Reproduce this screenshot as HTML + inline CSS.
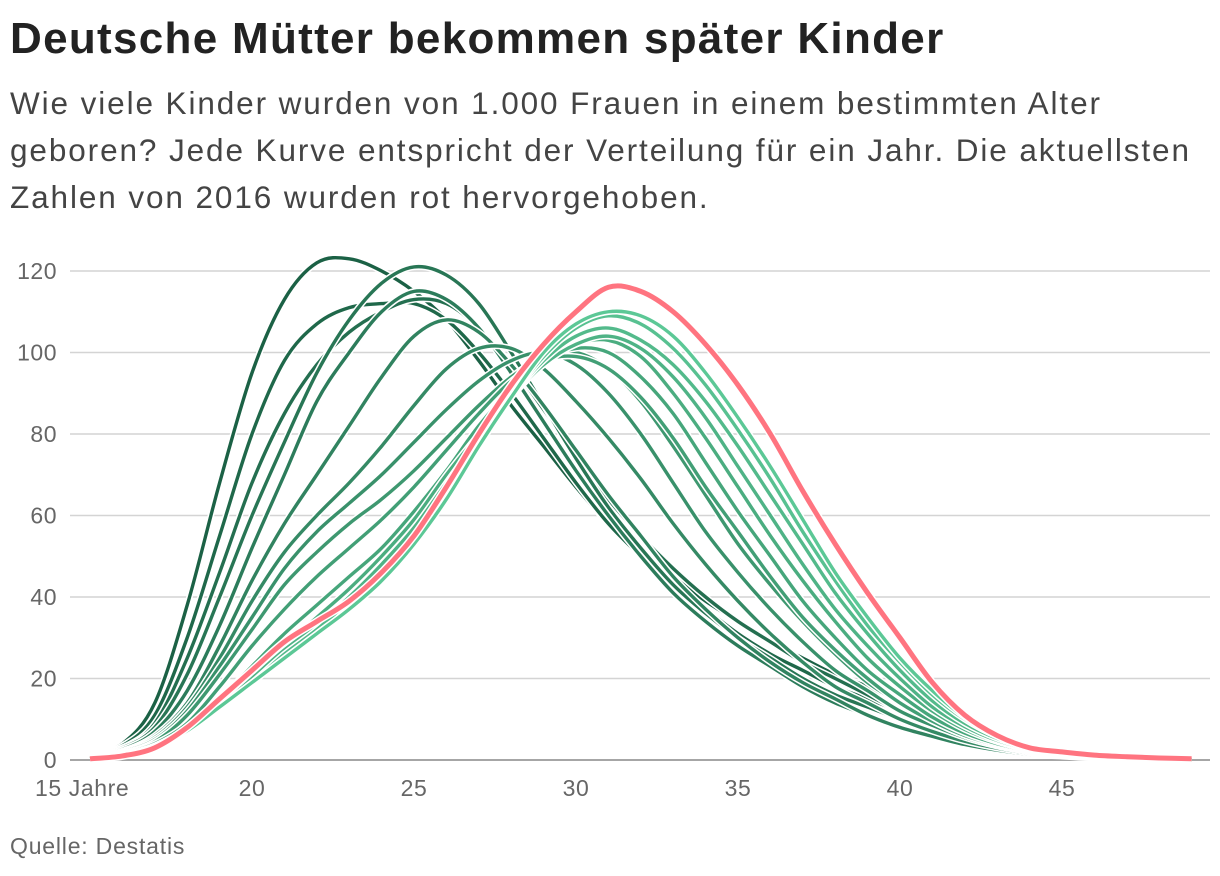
<!DOCTYPE html>
<html><head><meta charset="utf-8"><style>
body{margin:0;background:#fff;width:1220px;height:876px;overflow:hidden;font-family:"Liberation Sans",sans-serif;}
#title{position:absolute;left:10px;top:14px;font-size:44px;font-weight:bold;color:#222;letter-spacing:1.3px;margin:0;white-space:nowrap}
#sub{position:absolute;left:10px;top:80px;width:1210px;font-size:31.5px;line-height:47px;color:#444;margin:0;letter-spacing:1.9px;white-space:nowrap}
#src{position:absolute;left:10px;top:833px;font-size:23px;color:#666;letter-spacing:0.8px}
svg{position:absolute;left:0;top:0}
</style></head><body>
<h1 id="title">Deutsche Mütter bekommen später Kinder</h1>
<p id="sub">Wie viele Kinder wurden von 1.000 Frauen in einem bestimmten Alter<br>geboren? Jede Kurve entspricht der Verteilung für ein Jahr. Die aktuellsten<br>Zahlen von 2016 wurden rot hervorgehoben.</p>
<div id="src">Quelle: Destatis</div>
<svg id="chart" width="1220" height="876"></svg>
<script>
const ages=[15,16,17,18,19,20,21,22,23,24,25,26,27,28,29,30,31,32,33,34,35,36,37,38,39,40,41,42,43,44,45,46,47,48,49];
const yTicks=[0,20,40,60,80,100,120];
const xTicks=[15,20,25,30,35,40,45];
const xTickLabels=["15 Jahre","20","25","30","35","40","45"];
const years=[1970,1972,1974,1976,1978,1980,1982,1984,1988,1992,1996,2000,2004,2008,2012,2014];
const s1970=[1.5,4,14,38,68,95,113,122,123,120,115,108,98,87,77,67,58,51,45,39,34,29,25,21,18,14,10,7,4.5,2.5,1.5,1,0.6,0.4,0.2];
const s1972=[1.2,3.5,11,30,55,80,98,107,111,112,112,108,100,90,79,68,58,50,43,37,31,26,22,18,15,12,9,6,4,2.4,1.4,0.9,0.5,0.3,0.2];
const s1974=[1,3,9,25,46,68,85,97,105,110,113,112,106,97,86,75,64,55,47,40,34,29,24,20,16,12,9,6,4,2.3,1.3,0.8,0.5,0.3,0.2];
const s1976=[1,3,8,21,40,60,78,95,108,117,121,119,112,100,87,74,62,52,43,36,30,25,20,16,13,10,7,4.5,3,1.8,1.1,0.7,0.4,0.3,0.2];
const s1978=[0.9,2.6,7,17,33,52,70,88,100,110,115,113,106,95,83,71,60,50,41,34,28,23,18,14,11,8,6,4,2.6,1.6,1,0.6,0.4,0.2,0.1];
const s1980=[0.8,2.2,6,14,28,44,58,70,82,94,104,108,105,97,87,76,65,55,45,37,30,24,19,15,11,8,5.8,3.8,2.4,1.4,0.9,0.5,0.3,0.2,0.1];
const s1982=[0.7,2.1,5.5,13,25,39,51,60,68,77,87,96,101,101,96,88,79,69,58,48,39,31,24,18,14,10,7,4.6,2.9,1.7,1,0.6,0.3,0.2,0.1];
const s1984=[0.6,2,5,12,23,35,47,56,63,70,78,86,93,98,100,97,90,80,68,56,46,37,29,22,17,12,8.5,5.5,3.4,2,1.1,0.6,0.4,0.2,0.1];
const s1988=[0.5,1.7,4.5,11,21,32,43,51,58,64,71,79,87,94,99,100,96,88,77,65,53,43,34,26,19,14,9.5,6,3.7,2.1,1.2,0.7,0.4,0.2,0.1];
const s1992=[0.4,1.5,4,9,18,28,37,45,52,59,67,76,85,93,98,99,96,89,79,67,56,45,35,27,20,14,9.5,6,3.7,2.1,1.2,0.7,0.4,0.2,0.1];
const s1996=[0.4,1.3,3.5,8,15,23,31,38,45,52,61,71,82,91,98,101,100,94,85,73,61,50,39,30,22,16,10.5,6.6,4,2.3,1.3,0.7,0.4,0.2,0.1];
const s2000=[0.4,1.2,3.3,7.5,14,21,28,35,42,50,59,70,80,90,97,102,103,99,90,79,67,55,44,34,25,18,12,7.5,4.5,2.5,1.4,0.8,0.4,0.2,0.1];
const s2004=[0.4,1.2,3.2,7,13,20,27,33,40,48,57,68,79,89,97,102,104,101,94,84,72,60,48,37,28,20,13,8.2,4.8,2.7,1.5,0.8,0.4,0.2,0.1];
const s2008=[0.4,1.2,3.2,7,13,19,26,32,39,46,55,66,78,89,98,104,106,103,97,88,77,65,53,41,31,22,14.5,9,5.3,3,1.6,0.9,0.5,0.3,0.1];
const s2012=[0.4,1.2,3.2,7,13,19,25,31,37,45,54,65,77,89,99,106,109,107,101,92,81,69,56,44,33,24,16,10,5.8,3.2,1.7,0.9,0.5,0.3,0.1];
const s2014=[0.4,1.2,3.3,7.2,13,19,25,31,37,44,53,64,77,89,100,107,110,109,104,95,84,72,59,46,35,25,17,10.5,6,3.3,1.8,1,0.5,0.3,0.1];
const s2016=[0.3,1,3,8,15,22,29,34,39,46,55,67,80,92,102,110,116,115,110,102,92,80,66,53,41,30,19,11,6,3,2,1.2,0.8,0.5,0.3];
const series=[s1970,s1972,s1974,s1976,s1978,s1980,s1982,s1984,s1988,s1992,s1996,s2000,s2004,s2008,s2012,s2014];

const NS="http://www.w3.org/2000/svg";
const svg=document.getElementById('chart');
const x=a=>90+(a-15)*32.4;
const y=v=>760-v*(489/120);
function mk(t,at){const e=document.createElementNS(NS,t);for(const k in at)e.setAttribute(k,at[k]);svg.appendChild(e);return e;}
yTicks.forEach(t=>{
  const g=mk('line',{x1:70,x2:1210,y1:y(t),y2:y(t),stroke:t===0?'#888':'#d4d4d4','stroke-width':1.5});
  
  
  const l=mk('text',{x:57,y:y(t)+8,'text-anchor':'end','font-size':23,fill:'#666','letter-spacing':'0.5'});
  l.textContent=t;
  
  
});
xTicks.forEach((t,i)=>{
  const l=mk('text',{x:i===0?35:x(t),y:796,'text-anchor':i===0?'start':'middle','font-size':23,fill:'#666','letter-spacing':'0.6'});
  l.textContent=xTickLabels[i];
  
  
});
function pathD(vals){
  const p=vals.map((v,i)=>[x(ages[i]),y(v)]);
  let d='M'+p[0][0]+','+p[0][1];
  for(let i=0;i<p.length-1;i++){
    const p0=p[Math.max(0,i-1)],p1=p[i],p2=p[i+1],p3=p[Math.min(p.length-1,i+2)];
    const c1=[p1[0]+(p2[0]-p0[0])/6,p1[1]+(p2[1]-p0[1])/6];
    const c2=[p2[0]-(p3[0]-p1[0])/6,p2[1]-(p3[1]-p1[1])/6];
    d+=`C${c1[0]},${c1[1]} ${c2[0]},${c2[1]} ${p2[0]},${p2[1]}`;
  }
  return d;
}
function col(t){const a=[27,97,69],b=[92,200,150];return `rgb(${a.map((c,i)=>Math.round(c+(b[i]-c)*t)).join(',')})`;}
series.forEach((s,i)=>{
  const d=pathD(s);
  const o=mk('path',{d,fill:'none',stroke:'#fff','stroke-width':6.5});
  
  
  const l=mk('path',{d,fill:'none',stroke:col(i/(series.length-1)),'stroke-width':3.4});
  
  
});
const dr=pathD(s2016);
const ro=mk('path',{d:dr,fill:'none',stroke:'#fff','stroke-width':8});


const r=mk('path',{d:dr,fill:'none',stroke:'#ff7480','stroke-width':5});


</script>
</body></html>
